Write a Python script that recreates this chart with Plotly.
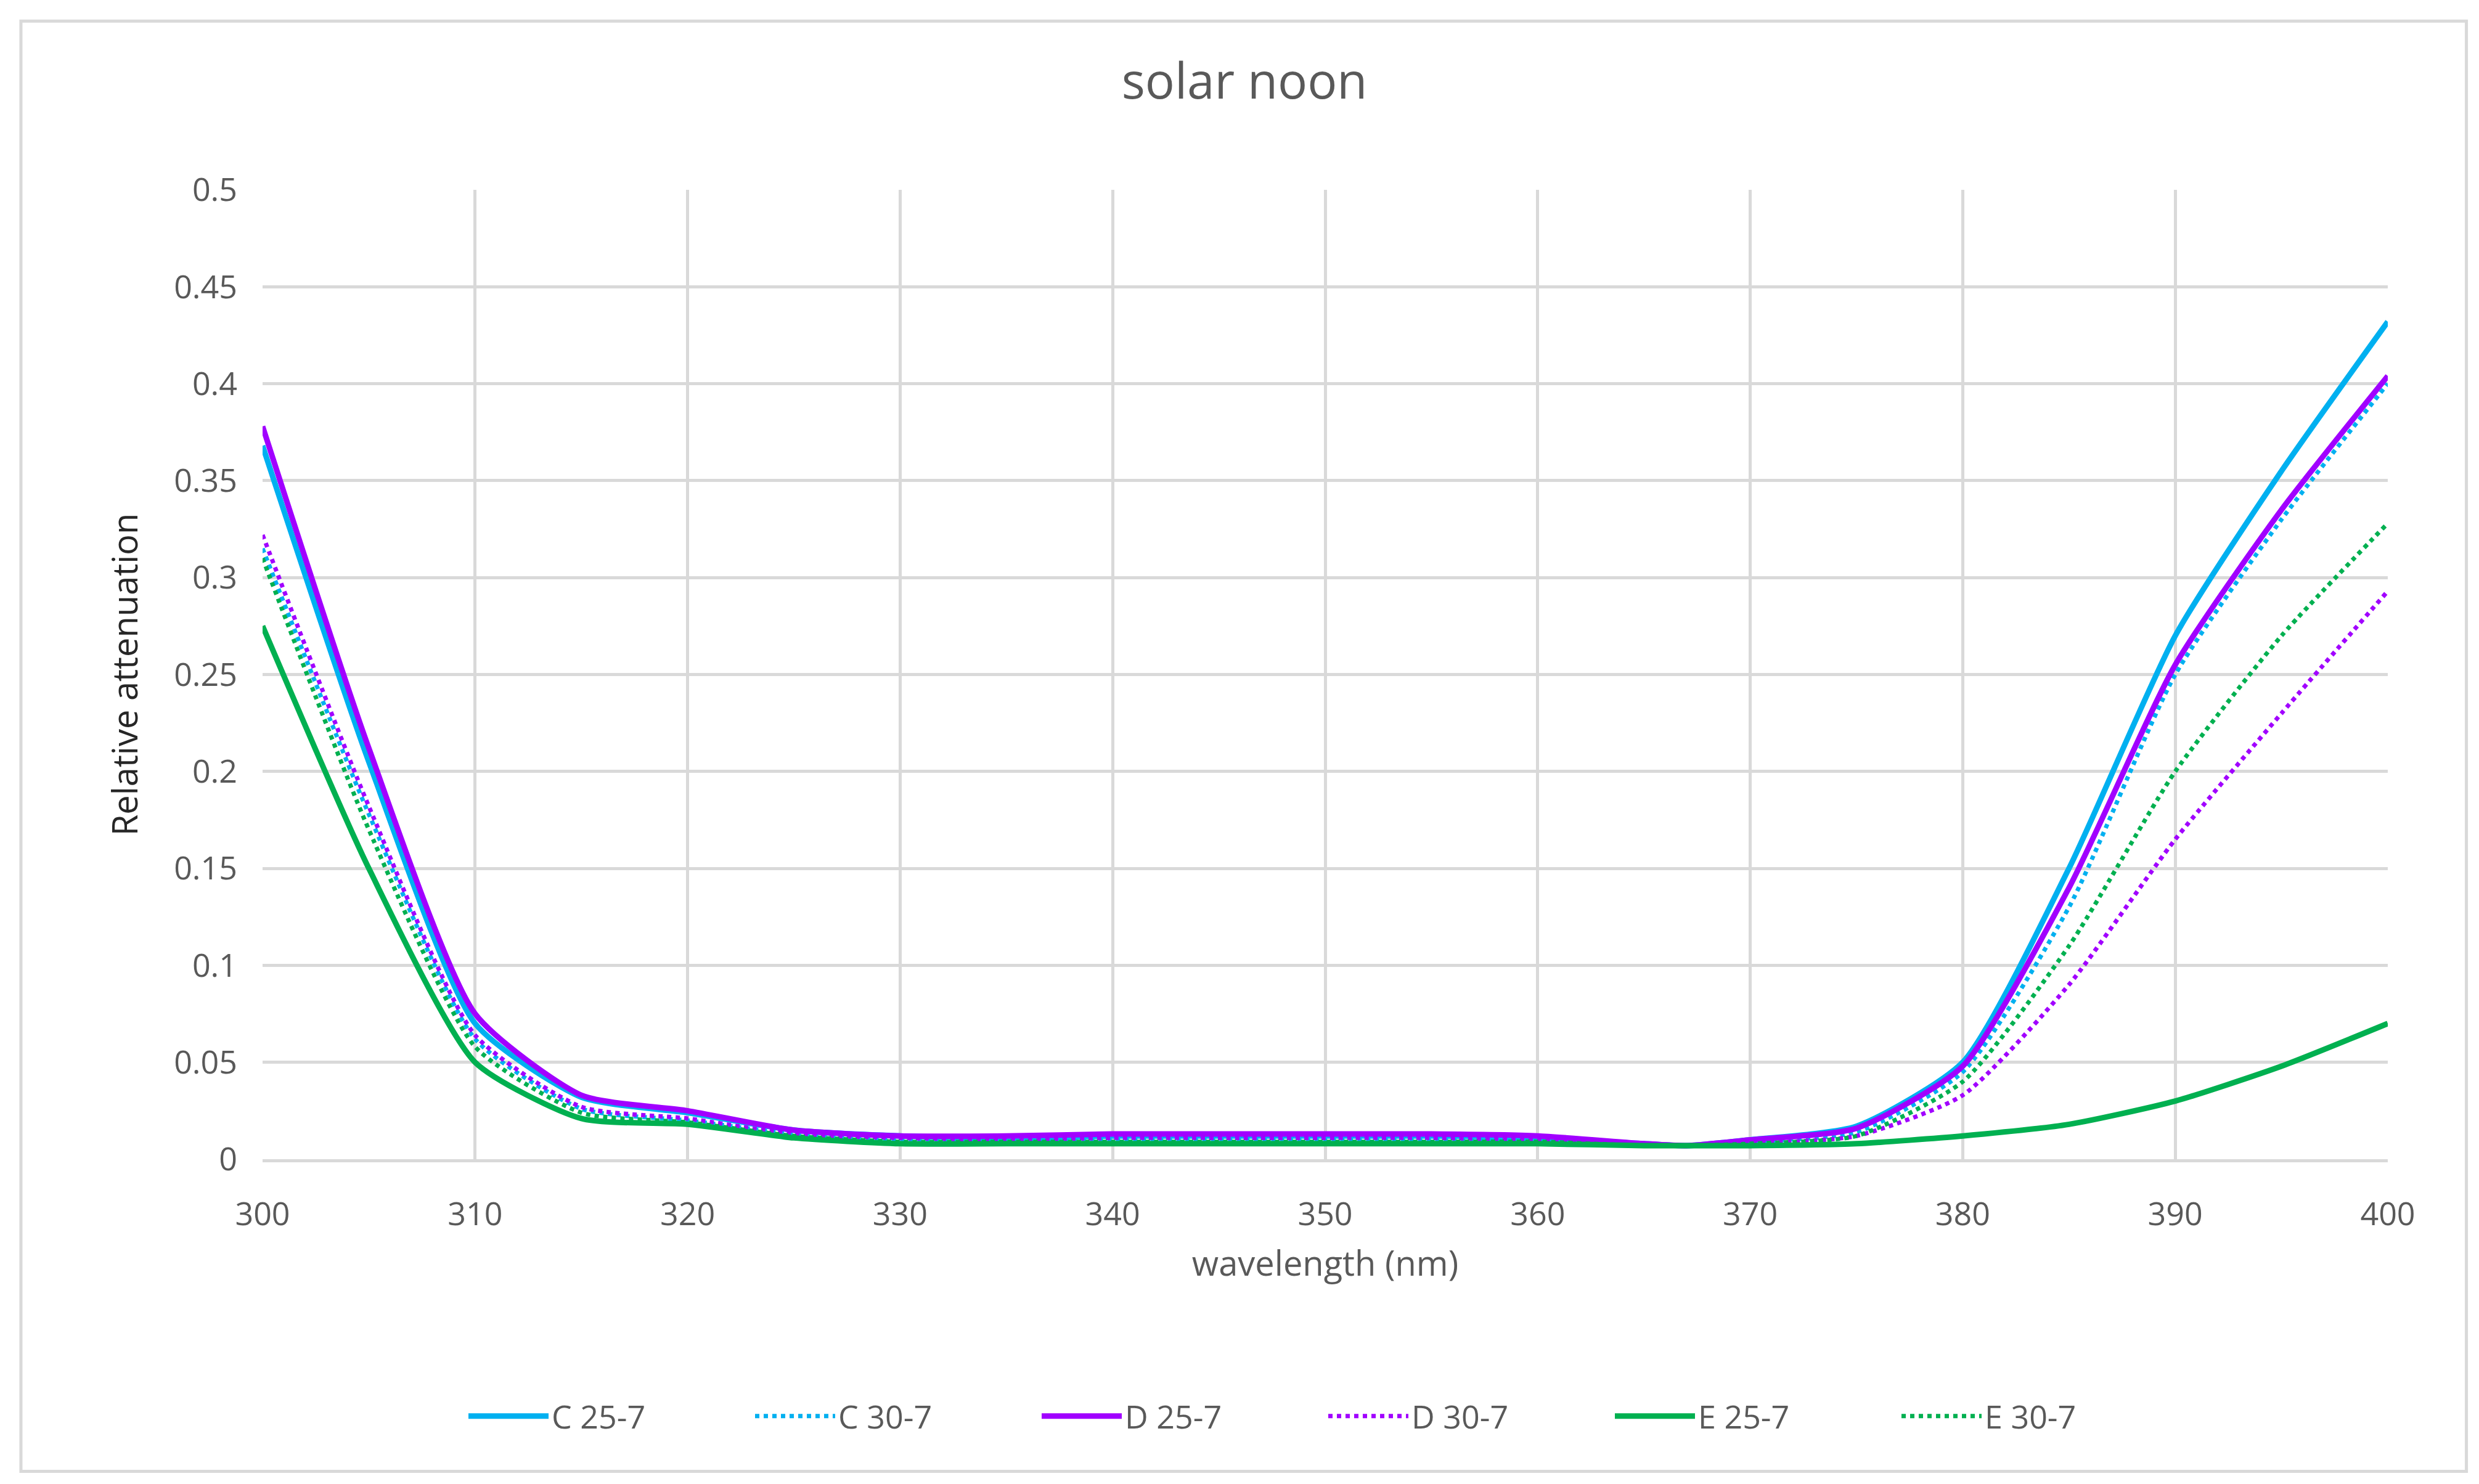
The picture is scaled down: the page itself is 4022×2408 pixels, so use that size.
import plotly.graph_objects as go

wl = [300,305,310,315,320,325,330,335,340,345,350,355,360,365,367,370,375,380,385,390,395,400]
c25 = [0.368,0.205,0.070,0.032,0.024,0.015,0.012,0.011,0.012,0.012,0.012,0.012,0.011,0.008,0.007,0.010,0.017,0.050,0.150,0.270,0.355,0.432]
c30 = [0.315,0.178,0.062,0.026,0.020,0.013,0.010,0.010,0.010,0.010,0.010,0.010,0.010,0.008,0.007,0.009,0.014,0.045,0.130,0.250,0.330,0.400]
d25 = [0.378,0.212,0.075,0.033,0.025,0.015,0.012,0.012,0.013,0.013,0.013,0.013,0.012,0.008,0.007,0.010,0.016,0.048,0.140,0.255,0.335,0.404]
d30 = [0.322,0.182,0.064,0.027,0.021,0.013,0.011,0.010,0.011,0.011,0.011,0.011,0.010,0.008,0.007,0.008,0.012,0.033,0.090,0.165,0.230,0.293]
e25 = [0.275,0.150,0.050,0.021,0.018,0.011,0.008,0.008,0.008,0.008,0.008,0.008,0.008,0.007,0.007,0.007,0.008,0.012,0.018,0.030,0.048,0.070]
e30 = [0.310,0.170,0.058,0.024,0.019,0.012,0.009,0.009,0.009,0.009,0.009,0.009,0.009,0.007,0.007,0.008,0.012,0.040,0.110,0.200,0.270,0.328]

blue, purple, green = "#00B0F0", "#A100FF", "#00B050"
series = [("C 25-7", c25, blue, "solid"), ("C 30-7", c30, blue, "dot"),
          ("D 25-7", d25, purple, "solid"), ("D 30-7", d30, purple, "dot"),
          ("E 25-7", e25, green, "solid"), ("E 30-7", e30, green, "dot")]

fig = go.Figure()
for name, ys, col, dash in series:
    fig.add_trace(go.Scatter(x=wl, y=ys, name=name, mode="lines",
        line=dict(color=col, dash=dash, width=9 if dash == "solid" else 7, shape="spline", smoothing=0.6)))

axfont = dict(family="Open Sans, Noto Sans", size=52, color="#595959")
fig.update_layout(
    width=4022, height=2408, paper_bgcolor="white", plot_bgcolor="white",
    margin=dict(l=418, r=156, t=300, b=535),
    title=dict(text="solar noon", x=0.5, xanchor="center", y=0.96, font=dict(family="Open Sans, Noto Sans", size=80, color="#595959")),
    font=axfont,
    xaxis=dict(range=[300, 400], dtick=10, showgrid=True, gridcolor="#D9D9D9", gridwidth=5,
               title=dict(text="wavelength (nm)", font=dict(size=56, color="#595959"), standoff=30),
               showline=True, linecolor="#D9D9D9", linewidth=5, ticks="", zeroline=False,
               tickfont=dict(size=52), ticklabelstandoff=40),
    yaxis=dict(range=[0, 0.5], dtick=0.05, showgrid=True, gridcolor="#D9D9D9", gridwidth=5,
               title=dict(text="Relative attenuation", font=dict(size=56, color="#262626"), standoff=40),
               zeroline=False, ticks="", tickfont=dict(size=52), tickformat="~g", ticklabelstandoff=40),
    legend=dict(orientation="h", x=0.5, xanchor="center", y=-0.265, yanchor="middle",
                font=dict(size=52, color="#595959"), entrywidth=320, itemwidth=130),
    shapes=[dict(type="rect", xref="paper", yref="paper", x0=-0.1137, x1=1.037, y0=-0.322, y1=1.174,
                 line=dict(color="#D9D9D9", width=5))],
)
fig.write_html("out.html")
